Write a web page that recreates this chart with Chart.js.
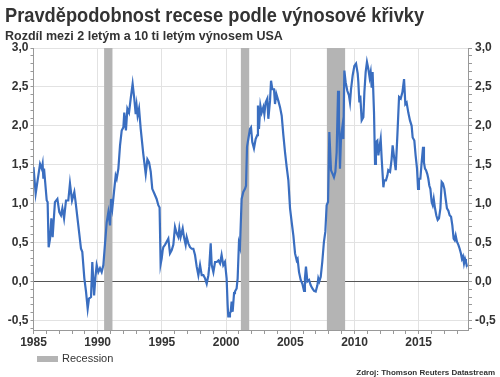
<!DOCTYPE html>
<html><head><meta charset="utf-8">
<script src="https://cdn.jsdelivr.net/npm/chart.js@4/dist/chart.umd.min.js"></script>
<style>
html,body{margin:0;padding:0;background:#fff;}
#wrap{position:relative;width:500px;height:377px;overflow:hidden;font-family:"Liberation Sans",Arial,sans-serif;}
canvas{position:absolute;left:0;top:0;}
.t{position:absolute;white-space:nowrap;color:#333;}
</style></head><body>
<div id="wrap">
<canvas id="c" width="500" height="377"></canvas>
<div class="t" style="left:5px;top:5px;font-size:20px;line-height:20px;font-weight:bold;transform:scaleX(0.913);transform-origin:0 0;">Pravděpodobnost recese podle výnosové křivky</div>
<div class="t" style="left:5px;top:30px;font-size:12.5px;line-height:12px;font-weight:bold;">Rozdíl mezi 2 letým a 10 ti letým výnosem USA</div>
<div style="position:absolute;left:37px;top:356px;width:21px;height:6px;background:#b4b4b4;"></div>
<div class="t" style="left:62px;top:353px;font-size:11px;line-height:11px;">Recession</div>
<div class="t" style="right:5px;top:369px;font-size:8px;line-height:8px;font-weight:bold;">Zdroj: Thomson Reuters Datastream</div>
</div>
<script>
const years = [
1985.00,1985.17,1985.51,1985.64,1985.71,1985.77,1985.82,1986.03,1986.10,1986.18,1986.29,1986.39,1986.49,1986.54,1986.67,1986.86,
1987.01,1987.14,1987.25,1987.38,1987.53,1987.71,1987.84,1988.00,1988.18,1988.28,1988.49,1988.70,1988.80,1988.96,1989.09,1989.22,
1989.32,1989.48,1989.58,1989.72,1989.82,1989.92,1990.05,1990.18,1990.31,1990.44,1990.70,1990.83,1990.96,1991.04,1991.14,1991.27,
1991.40,1991.48,1991.61,1991.74,1991.87,1992.00,1992.07,1992.20,1992.31,1992.44,1992.57,1992.72,1992.85,1992.96,1993.03,1993.11,
1993.22,1993.35,1993.55,1993.74,1993.87,1994.00,1994.13,1994.25,1994.41,1994.59,1994.72,1994.82,1994.90,1994.98,1995.06,1995.11,
1995.24,1995.37,1995.50,1995.63,1995.76,1995.89,1996.02,1996.15,1996.28,1996.36,1996.46,1996.62,1996.72,1996.85,1996.93,1997.06,
1997.19,1997.32,1997.45,1997.58,1997.71,1997.84,1997.97,1998.10,1998.23,1998.36,1998.49,1998.62,1998.69,1998.80,1998.88,1999.01,
1999.14,1999.27,1999.40,1999.53,1999.65,1999.78,1999.91,2000.04,2000.12,2000.17,2000.23,2000.30,2000.36,2000.43,2000.51,2000.62,
2000.69,2000.82,2000.90,2001.00,2001.08,2001.21,2001.34,2001.47,2001.55,2001.63,2001.73,2001.86,2001.94,2002.04,2002.17,2002.30,
2002.43,2002.48,2002.56,2002.67,2002.77,2002.90,2002.98,2003.08,2003.21,2003.29,2003.42,2003.50,2003.60,2003.73,2003.81,2003.91,
2004.07,2004.20,2004.33,2004.46,2004.59,2004.72,2004.85,2004.98,2005.11,2005.24,2005.37,2005.50,2005.57,2005.68,2005.81,2005.94,
2006.07,2006.14,2006.22,2006.33,2006.46,2006.59,2006.72,2006.85,2006.98,2007.11,2007.18,2007.26,2007.37,2007.49,2007.62,2007.73,
2007.83,2007.94,2008.04,2008.17,2008.30,2008.40,2008.51,2008.61,2008.72,2008.79,2008.87,2008.95,2009.05,2009.13,2009.21,2009.31,
2009.44,2009.57,2009.65,2009.73,2009.86,2009.99,2010.12,2010.25,2010.30,2010.38,2010.45,2010.56,2010.69,2010.77,2010.87,2010.97,
2011.08,2011.18,2011.26,2011.34,2011.41,2011.52,2011.60,2011.67,2011.78,2011.86,2011.93,2012.04,2012.12,2012.25,2012.32,2012.45,
2012.56,2012.63,2012.77,2012.89,2012.97,2013.08,2013.21,2013.34,2013.47,2013.60,2013.73,2013.86,2013.96,2014.06,2014.19,2014.32,
2014.45,2014.53,2014.66,2014.76,2014.87,2014.95,2015.02,2015.13,2015.23,2015.34,2015.41,2015.49,2015.57,2015.67,2015.75,2015.83,
2015.91,2016.01,2016.09,2016.17,2016.27,2016.37,2016.48,2016.58,2016.69,2016.79,2016.89,2017.00,2017.10,2017.20,2017.31,2017.41,
2017.52,2017.62,2017.72,2017.80,2017.88,2017.98,2018.09,2018.19,2018.29,2018.37,2018.45,2018.53,2018.61,2018.68,2018.76
];
const spread = [
1.47,1.13,1.51,1.45,1.51,1.32,1.45,1.04,1.02,0.44,0.55,0.81,0.57,0.70,1.02,1.06,
0.89,0.85,0.94,0.81,1.04,1.04,1.26,1.04,1.15,1.02,0.72,0.42,0.38,0.04,-0.13,-0.35,
-0.22,-0.20,0.25,-0.18,0.05,0.21,0.12,0.17,0.12,0.21,0.76,0.89,0.72,1.06,0.94,1.15,
1.36,1.32,1.45,1.75,1.94,1.98,2.17,1.94,2.22,2.17,2.35,2.54,2.35,2.15,2.26,2.13,
2.22,1.96,1.64,1.38,1.57,1.53,1.41,1.19,1.13,1.06,0.98,0.95,0.22,0.29,0.40,0.44,
0.47,0.51,0.55,0.36,0.40,0.47,0.70,0.62,0.57,0.68,0.57,0.68,0.57,0.47,0.57,0.49,
0.44,0.42,0.42,0.34,0.19,0.08,0.21,0.08,0.08,0.04,-0.03,0.08,0.19,0.49,0.21,0.12,
0.25,0.25,0.27,0.23,0.34,0.21,0.25,0.04,-0.30,-0.45,-0.45,-0.41,-0.39,-0.26,-0.39,-0.15,
-0.13,-0.09,0.04,0.49,0.44,1.06,1.15,1.19,1.23,1.73,1.83,1.96,1.98,1.79,1.71,1.83,
1.88,2.26,1.96,2.26,2.17,2.24,2.15,2.30,2.35,2.09,2.32,2.58,2.47,2.47,2.28,2.41,
2.32,2.24,2.13,1.88,1.66,1.47,1.30,0.94,0.76,0.59,0.36,0.27,0.29,0.12,0.02,-0.03,
-0.12,0.04,0.19,0.00,0.02,-0.05,-0.09,-0.12,-0.13,-0.05,0.04,0.00,0.06,0.25,0.51,0.64,
0.98,1.02,1.92,1.43,1.38,1.34,1.41,1.66,2.45,2.09,1.45,1.85,1.98,1.83,2.71,2.56,
2.45,2.39,2.30,2.47,2.65,2.77,2.80,2.67,2.56,2.30,2.39,2.07,2.11,2.43,2.69,2.82,
2.73,2.62,2.69,2.49,2.69,2.17,1.51,1.79,1.81,1.62,1.71,1.83,1.57,1.21,1.30,1.30,
1.36,1.43,1.41,1.57,1.75,1.60,1.43,1.88,2.37,2.35,2.43,2.60,2.28,2.30,2.17,2.07,
2.00,1.85,1.81,1.62,1.45,1.19,1.32,1.32,1.53,1.73,1.53,1.45,1.43,1.38,1.32,1.23,
1.19,1.02,0.98,1.06,0.94,0.85,0.79,0.81,0.94,1.28,1.26,1.19,1.06,0.94,0.91,0.85,
0.83,0.72,0.55,0.53,0.59,0.51,0.47,0.42,0.36,0.29,0.32,0.23,0.29,0.25,0.19
];
const recessionStart = [1990.50, 2001.15, 2007.85];
const recessionEnd   = [1991.15, 2001.80, 2009.27];
const xTickLabels = [1985, 1990, 1995, 2000, 2005, 2010, 2015];

const recessionPlugin = {
  id: 'recessions',
  beforeDatasetsDraw(chart) {
    const {ctx, chartArea: a, scales: {x}} = chart;
    ctx.save();
    ctx.fillStyle = '#b4b4b4';
    for (let i = 0; i < recessionStart.length; i++) {
      const x0 = x.getPixelForValue(recessionStart[i]);
      const x1 = x.getPixelForValue(recessionEnd[i]);
      ctx.fillRect(x0, a.top, x1 - x0, a.bottom - a.top);
    }
    ctx.restore();
  }
};

const fmtY = v => {
  const r = Math.round(v * 10);
  if (r % 5 !== 0) return '';
  return (r / 10).toFixed(1).replace('.', ',');
};
const isMajorY = v => Math.round(v * 10) % 5 === 0;
const tickFont = {family: '"Liberation Sans", Arial, sans-serif', size: 12, weight: 'bold'};

new Chart(document.getElementById('c'), {
  type: 'line',
  data: {
    datasets: [{
      data: years.map((yr, i) => ({x: yr, y: spread[i]})),
      borderColor: '#3a6ec0',
      borderWidth: 2.2,
      pointRadius: 0,
      tension: 0,
      fill: false
    }]
  },
  options: {
    responsive: false,
    animation: false,
    devicePixelRatio: 1,
    layout: {padding: {top: 48, left: 0, right: 0, bottom: 0}},
    plugins: {legend: {display: false}, tooltip: {enabled: false}},
    scales: {
      x: {
        type: 'linear', position: 'bottom', min: 1985, max: 2018.84,
        afterFit: s => { s.height = 47; },
        afterBuildTicks: s => {
          const t = [];
          for (let y = 1985; y <= 2018; y++) t.push({value: y});
          s.ticks = t;
        },
        ticks: {
          autoSkip: false, maxRotation: 0, padding: 1, color: '#333', font: tickFont,
          callback: v => xTickLabels.includes(v) ? String(v) : ''
        },
        grid: {
          color: c => (c.tick && xTickLabels.includes(c.tick.value)) ? '#e2e2e2' : 'rgba(0,0,0,0)',
          tickColor: '#999', tickLength: 4, lineWidth: 1
        },
        border: {color: '#999'}
      },
      y: {
        position: 'left', min: -0.624, max: 3.0,
        afterFit: s => { s.width = 33.5; },
        afterBuildTicks: s => {
          const t = [];
          for (let k = -6; k <= 30; k++) t.push({value: k / 10});
          s.ticks = t;
        },
        ticks: {autoSkip: false, padding: 2, color: '#333', font: tickFont, callback: fmtY},
        grid: {
          color: c => {
            if (!c.tick) return 'rgba(0,0,0,0)';
            const v = c.tick.value;
            if (Math.abs(v) < 1e-9) return '#555';
            return isMajorY(v) ? '#e2e2e2' : 'rgba(0,0,0,0)';
          },
          tickColor: '#999', tickLength: 3
        },
        border: {color: '#999'}
      },
      y2: {
        position: 'right', min: -0.624, max: 3.0,
        afterFit: s => { s.width = 32; },
        afterBuildTicks: s => {
          const t = [];
          for (let k = -6; k <= 30; k++) t.push({value: k / 10});
          s.ticks = t;
        },
        ticks: {autoSkip: false, padding: 3, color: '#333', font: tickFont, callback: fmtY},
        grid: {drawOnChartArea: false, tickColor: '#999', tickLength: 4},
        border: {color: '#999'}
      }
    }
  },
  plugins: [recessionPlugin]
});
</script>
</body></html>
